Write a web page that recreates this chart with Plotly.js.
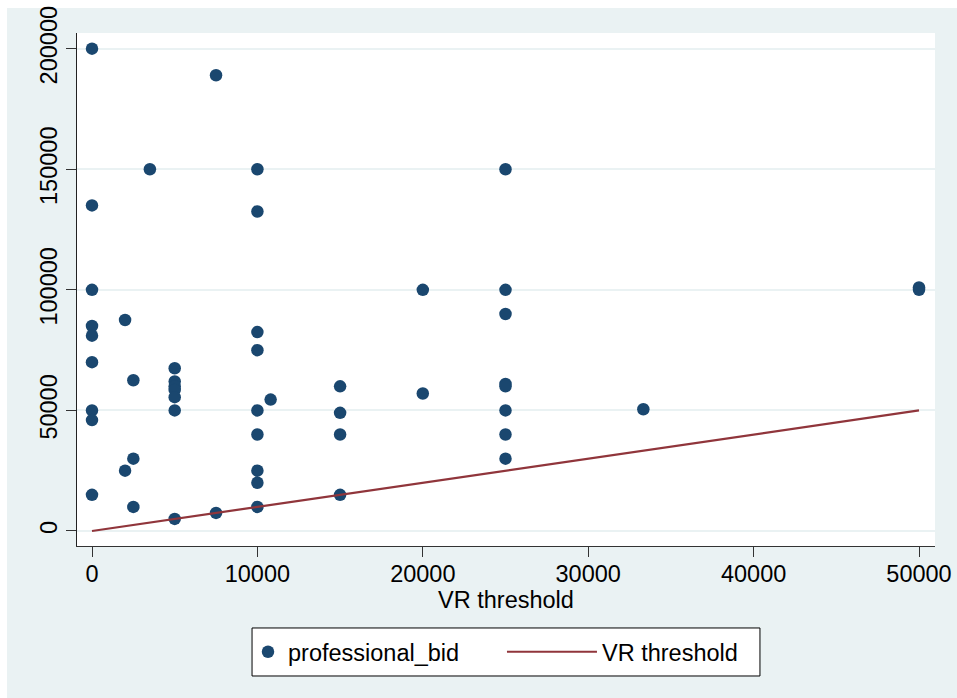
<!DOCTYPE html>
<html>
<head>
<meta charset="utf-8">
<script src="https://cdn.plot.ly/plotly-3.0.1.min.js"></script>
<style>
  html, body { margin: 0; padding: 0; background: #ffffff; }
  #chart { position: absolute; left: 0px; top: 0px; width: 957px; height: 698px; }
</style>
</head>
<body>
<div id="chart"></div>
<script>
// VR threshold (x) and professional bid (y)
const vrThreshold = [
  0, 0, 0, 0, 0, 0, 0, 0, 0,
  2000, 2000,
  2500, 2500, 2500,
  3500,
  5000, 5000, 5000, 5000, 5000, 5000, 5000,
  7500, 7500,
  10000, 10000, 10000, 10000, 10000, 10000, 10000, 10000, 10000,
  10800,
  15000, 15000, 15000, 15000,
  20000, 20000,
  25000, 25000, 25000, 25000, 25000, 25000, 25000, 25000,
  33333,
  50000, 50000
];
const professionalBid = [
  200000, 135000, 100000, 85000, 81000, 70000, 50000, 46000, 15000,
  87500, 25000,
  62500, 30000, 10000,
  150000,
  67500, 62000, 60000, 58500, 55500, 50000, 5000,
  189000, 7500,
  150000, 132500, 82500, 75000, 50000, 40000, 25000, 20000, 10000,
  54500,
  60000, 49000, 40000, 15000,
  100000, 57000,
  150000, 100000, 90000, 61000, 60000, 50000, 40000, 30000,
  50500,
  101000, 100000
];
const xTicks = [0, 10000, 20000, 30000, 40000, 50000];
const yTicks = [0, 50000, 100000, 150000, 200000];
const seriesNames = ["professional_bid", "VR threshold"];

// line trace: VR threshold against itself (sorted)
const lineX = vrThreshold.slice().sort((a, b) => a - b);
const lineY = lineX.slice();

const FONT = "Liberation Sans, Arial, sans-serif";

const traces = [
  {
    type: "scatter", mode: "markers",
    x: vrThreshold, y: professionalBid,
    name: seriesNames[0],
    marker: { color: "#1a476f", size: 12.5, line: { width: 0 } },
    legend: "legend",
    hoverinfo: "x+y"
  },
  {
    type: "scatter", mode: "lines",
    x: lineX, y: lineY,
    name: seriesNames[1],
    line: { color: "#90353b", width: 2.2 },
    legend: "legend2",
    hoverinfo: "x+y"
  }
];

const layout = {
  width: 957, height: 698,
  paper_bgcolor: "#eaf2f3",
  plot_bgcolor: "#ffffff",
  font: { family: FONT, size: 23.5, color: "#000000" },
  margin: { l: 77, r: 22, t: 33, b: 152, pad: 0 },
  showlegend: true,
  xaxis: {
    range: [-907, 50967],
    tickvals: xTicks,
    ticktext: xTicks.map(String),
    ticks: "outside", ticklen: 10, tickwidth: 1, tickcolor: "#333333",
    ticklabelstandoff: -3,
    showline: true, linecolor: "#333333", linewidth: 1,
    showgrid: false, zeroline: false,
    tickfont: { family: FONT, size: 23.5, color: "#000000" },
    title: { text: "VR threshold", font: { family: FONT, size: 23.5, color: "#000000" }, standoff: 0 }
  },
  yaxis: {
    range: [-6224, 206510],
    tickvals: yTicks,
    ticktext: yTicks.map(String),
    tickangle: -90,
    ticklabeloverflow: "allow",
    ticks: "outside", ticklen: 10, tickwidth: 1, tickcolor: "#333333",
    showline: true, linecolor: "#222222", linewidth: 1,
    showgrid: true, gridcolor: "#eaf2f3", gridwidth: 1.8,
    zeroline: false,
    tickfont: { family: FONT, size: 23.5, color: "#000000" }
  },
  legend: {
    orientation: "h", x: 0.1993, xanchor: "left", y: -0.2066, yanchor: "middle",
    bgcolor: "rgba(0,0,0,0)", borderwidth: 0, itemwidth: 30,
    font: { family: FONT, size: 23.5, color: "#000000" }
  },
  legend2: {
    orientation: "h", x: 0.4953, xanchor: "left", y: -0.2066, yanchor: "middle",
    bgcolor: "rgba(0,0,0,0)", borderwidth: 0, itemwidth: 90,
    font: { family: FONT, size: 23.5, color: "#000000" }
  },
  shapes: [
    // white page margin strips (top and left) around the graph region
    {
      type: "rect", xref: "paper", yref: "paper",
      x0: -0.1, x1: 1.1, y0: 1.0487, y1: 1.1,
      line: { width: 0 }, fillcolor: "#ffffff", layer: "below"
    },
    {
      type: "rect", xref: "paper", yref: "paper",
      x0: -0.1, x1: -0.0816, y0: -0.35, y1: 1.1,
      line: { width: 0 }, fillcolor: "#ffffff", layer: "below"
    },
    // legend frame
    {
      type: "rect", xref: "paper", yref: "paper",
      x0: 0.2040, x1: 0.7960, y0: -0.2534, y1: -0.1598,
      line: { color: "#000000", width: 1 }, fillcolor: "#ffffff", layer: "below"
    }
  ]
};

Plotly.newPlot("chart", traces, layout, { displayModeBar: false, responsive: false });
</script>
</body>
</html>
